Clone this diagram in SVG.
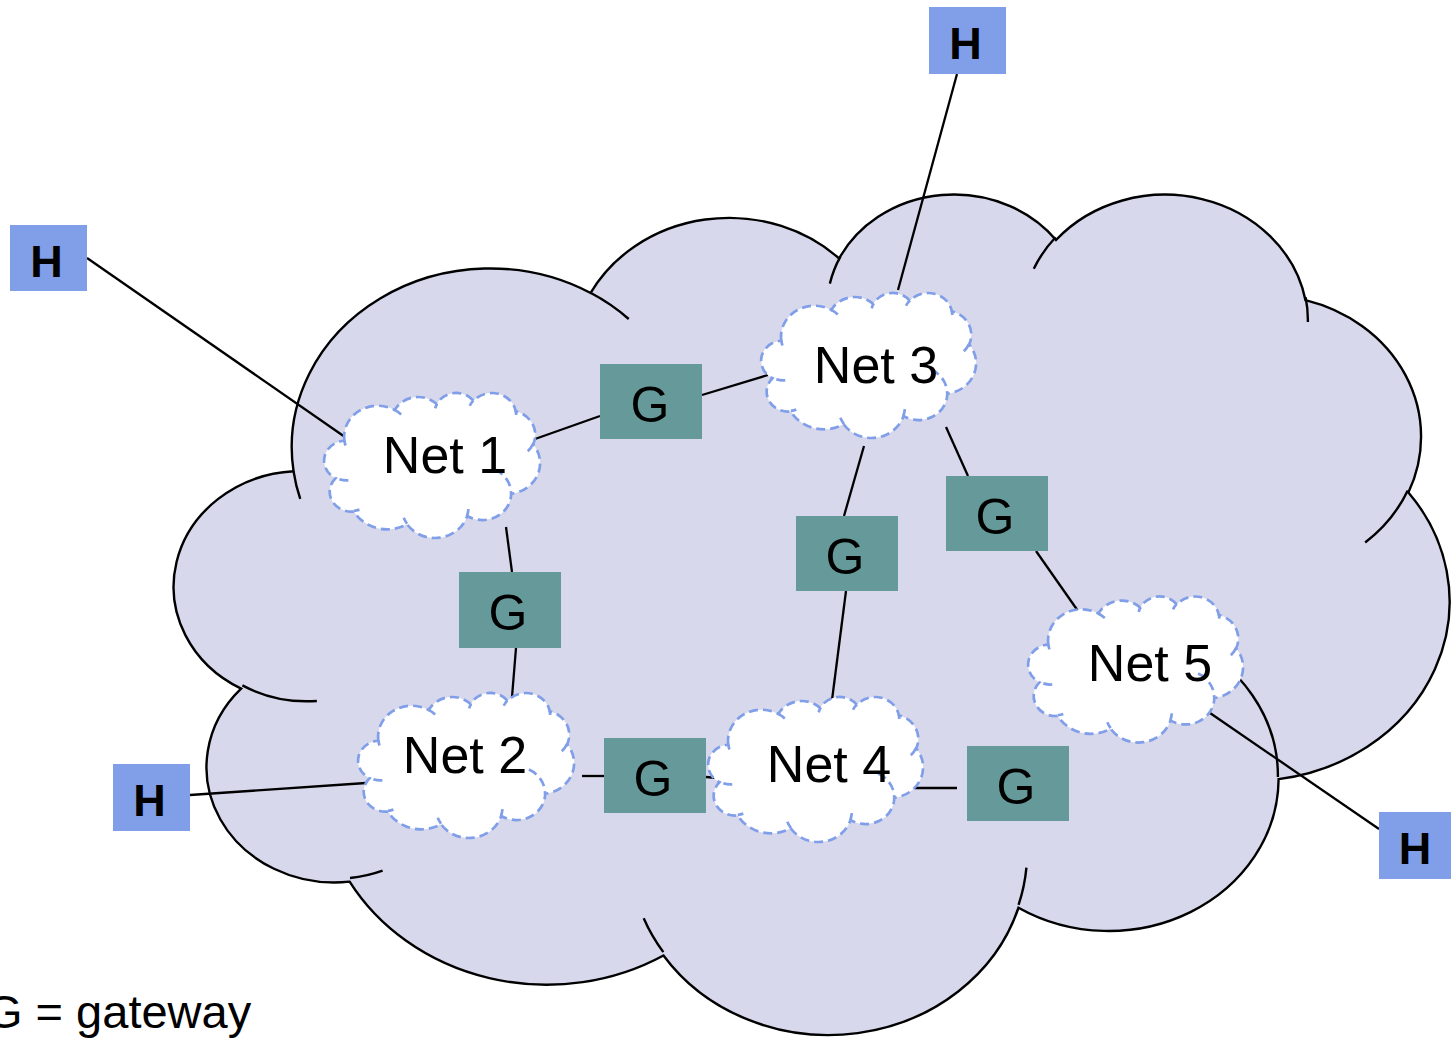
<svg xmlns="http://www.w3.org/2000/svg" xmlns:xlink="http://www.w3.org/1999/xlink" width="1451" height="1038" viewBox="0 0 1451 1038">
<style>
.big{fill:#d7d8ec;stroke:#000;stroke-width:2.4}
.bigin{fill:none;stroke:#000;stroke-width:2.4}
.net{fill:#fff;stroke:#809fe8;stroke-width:2.7;stroke-dasharray:9 5}
.netin{fill:none;stroke:#809fe8;stroke-width:2.7;stroke-dasharray:9 5}
.nl{font-family:"Liberation Sans",Arial,sans-serif;font-size:52px;fill:#000;text-anchor:middle}
.g rect{fill:#669999}
.g text{font-family:"Liberation Sans",Arial,sans-serif;font-size:50px;fill:#000;text-anchor:middle}
.h rect{fill:#809fe8}
.h text{font-family:"Liberation Sans",Arial,sans-serif;font-size:45px;font-weight:bold;fill:#000;text-anchor:middle}
.conn line{stroke:#000;stroke-width:2.3}
</style>
<defs>
<path id="co" vector-effect="non-scaling-stroke" d="M3900 14370A6753 9190 0 0 1 14004.6 5201.8A5333 7267 0 0 1 22456.6 3428.8A4365 5945 0 0 1 29834 2477.6A4857 6595 0 0 1 38319 5573.1A5333 7273 0 0 1 41819.5 15456.7A6775 9220 0 0 1 37404.9 30199.4A5785 7867 0 0 1 28556.8 36809.9A6752 9215 0 0 1 16482 39262.6A7720 10543 0 0 1 5806.8 35468.7A4360 5918 0 0 1 2116 25546.2A4345 5945 0 0 1 3900 14370Z"/>
<path id="ci" vector-effect="non-scaling-stroke" d="M4693 26177A4345 5945 0 0 1 2159.4 25379.6M6928 34899A4360 5918 0 0 1 5819.4 35280.5M16478 39090A6752 9215 0 0 1 15809.5 37347.4M28827 34751A6752 9215 0 0 1 28560.3 36660.1M34129 22954A5785 7867 0 0 1 37380.8 30089.8M41798 15354A5333 7273 0 0 1 40348.9 18031.3M38324 5426A4857 6595 0 0 1 38400.4 6689.6M29078 3952A4857 6595 0 0 1 29820.1 2339.4M22141 4720A4365 5945 0 0 1 22500 3330.7M14000 5192A6753 9190 0 0 1 15300.3 6540.8M4127 15789A6753 9190 0 0 1 3900.3 14371"/>
</defs>

<g id="internet">
<use href="#co" class="big" transform="translate(178.9 191.8) scale(0.0294 0.01945)"/>
<use href="#ci" class="bigin" transform="translate(178.9 191.8) scale(0.0294 0.01945)"/>
</g>

<g id="connectors" class="conn">
<line x1="87" y1="258" x2="345" y2="437"/>
<line x1="535" y1="439" x2="600" y2="416"/>
<line x1="702" y1="395" x2="768" y2="375"/>
<line x1="957" y1="74" x2="898" y2="290"/>
<line x1="864" y1="446" x2="844" y2="516"/>
<line x1="946" y1="427" x2="968" y2="476"/>
<line x1="506" y1="527" x2="512" y2="572"/>
<line x1="516" y1="648" x2="512" y2="697"/>
<line x1="846" y1="591" x2="832" y2="700"/>
<line x1="1036" y1="551" x2="1078" y2="611"/>
<line x1="582" y1="776" x2="604" y2="776"/>
<line x1="706" y1="777" x2="718" y2="778"/>
<line x1="915" y1="788" x2="957" y2="788"/>
<line x1="1210" y1="713" x2="1379" y2="829"/>
<line x1="190" y1="795" x2="366" y2="783"/>
</g>

<g id="net1">
<use href="#co" class="net" transform="translate(325 392.5) scale(0.004977 0.003356)"/>
<use href="#ci" class="netin" transform="translate(325 392.5) scale(0.004977 0.003356)"/>
<text class="nl" x="445" y="473">Net 1</text>
</g>
<g id="net2">
<use href="#co" class="net" transform="translate(359 692.5) scale(0.004977 0.003356)"/>
<use href="#ci" class="netin" transform="translate(359 692.5) scale(0.004977 0.003356)"/>
<text class="nl" x="465" y="773">Net 2</text>
</g>
<g id="net3">
<use href="#co" class="net" transform="translate(762 292.5) scale(0.004954 0.003356)"/>
<use href="#ci" class="netin" transform="translate(762 292.5) scale(0.004954 0.003356)"/>
<text class="nl" x="876" y="383">Net 3</text>
</g>
<g id="net4">
<use href="#co" class="net" transform="translate(709 696.5) scale(0.004954 0.003356)"/>
<use href="#ci" class="netin" transform="translate(709 696.5) scale(0.004954 0.003356)"/>
<text class="nl" x="829" y="782">Net 4</text>
</g>
<g id="net5">
<use href="#co" class="net" transform="translate(1029 596) scale(0.004954 0.00338)"/>
<use href="#ci" class="netin" transform="translate(1029 596) scale(0.004954 0.00338)"/>
<text class="nl" x="1150" y="681">Net 5</text>
</g>

<g id="g1" class="g"><rect x="600" y="364" width="102" height="75"/><text x="650" y="422">G</text></g>
<g id="g2" class="g"><rect x="459" y="572" width="102" height="76"/><text x="508" y="630">G</text></g>
<g id="g3" class="g"><rect x="796" y="516" width="102" height="75"/><text x="845" y="574">G</text></g>
<g id="g4" class="g"><rect x="946" y="476" width="102" height="75"/><text x="995" y="534">G</text></g>
<g id="g5" class="g"><rect x="604" y="738" width="102" height="75"/><text x="653" y="796">G</text></g>
<g id="g6" class="g"><rect x="967" y="746" width="102" height="75"/><text x="1016" y="804">G</text></g>

<g id="h1" class="h"><rect x="929" y="7" width="77" height="67"/><text x="965.5" y="59">H</text></g>
<g id="h2" class="h"><rect x="10" y="225" width="77" height="66"/><text x="46.5" y="277">H</text></g>
<g id="h3" class="h"><rect x="113" y="764" width="77" height="67"/><text x="149.5" y="816">H</text></g>
<g id="h4" class="h"><rect x="1379" y="812" width="77" height="67"/><text x="1415" y="864">H</text></g>

<text id="legend" x="-14" y="1028" font-family="Liberation Sans, Arial, sans-serif" font-size="47">G = gateway</text>
</svg>
